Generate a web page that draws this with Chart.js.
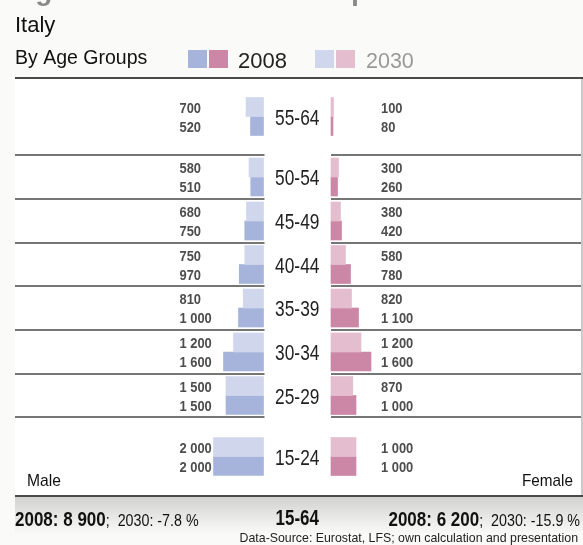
<!DOCTYPE html>
<html>
<head>
<meta charset="utf-8">
<script src="https://cdn.jsdelivr.net/npm/chart.js@4.4.1/dist/chart.umd.min.js"></script>
<style>
  html, body { margin: 0; padding: 0; background: #fafaf8; }
  canvas { display: block; }
</style>
</head>
<body>
<canvas id="pyramid" width="583" height="545"></canvas>
<script>
// data, top row first (values in thousands)
var ageGroups = ['55-64', '50-54', '45-49', '40-44', '35-39', '30-34', '25-29', '15-24'];
var male2030 = [700, 580, 680, 750, 810, 1200, 1500, 2000];
var male2008 = [520, 510, 750, 970, 1000, 1600, 1500, 2000];
var female2030 = [100, 300, 380, 580, 820, 1200, 870, 1000];
var female2008 = [80, 260, 420, 780, 1100, 1600, 1000, 1000];
var years = ['2008', '2030'];
var total2008 = [8900, 6200];      // male, female
var change2030 = [-7.8, -15.9];    // male, female, %
var totalRange = '15-64';

// layout: row heights (10-year groups get taller rows) and bar thickness
var rowHeights = [77, 44, 44, 43, 44, 44, 43, 79];
var BAR = 19;

var colors = {
  male2008: '#a6b4dc', male2030: '#d0d6ec',
  female2008: '#cc86a6', female2030: '#e4becf'
};

var rowCenters = [], rowEdges = [0], acc = 0;
rowHeights.forEach(function (h) {
  rowCenters.push(acc + h / 2);
  acc += h;
  rowEdges.push(acc);
});

function fmt(v) {
  if (v < 1000) return String(v);
  return Math.floor(v / 1000) + ' ' + String(v % 1000).padStart(3, '0');
}
function fmtPct(v) {
  return (v < 0 ? '-' : '') + Math.abs(v).toFixed(1) + ' %';
}

// text with horizontal squeeze (the original uses a condensed face)
function txt(ctx, s, x, y, font, color, align, sx) {
  sx = sx || 1;
  ctx.save();
  ctx.font = font;
  ctx.fillStyle = color;
  ctx.textBaseline = 'alphabetic';
  ctx.textAlign = align || 'left';
  ctx.translate(x, y);
  ctx.scale(sx, 1);
  ctx.fillText(s, 0, 0);
  ctx.restore();
}
function txtWidth(ctx, s, font, sx) {
  ctx.save();
  ctx.font = font;
  var w = ctx.measureText(s).width * (sx || 1);
  ctx.restore();
  return w;
}

function rows(values, offset, male) {
  return values.map(function (v, i) {
    return { x: male ? [-v, 0] : [0, v], y: rowCenters[i] + offset };
  });
}

var FONT = '"Liberation Sans", Arial, sans-serif';

var framePlugin = {
  id: 'frame',
  beforeDraw: function (chart) {
    var ctx = chart.ctx, a = chart.chartArea;
    ctx.save();
    // chart box
    ctx.fillStyle = '#ffffff';
    ctx.fillRect(a.left, a.top, a.right - a.left, a.bottom - a.top);
    ctx.fillStyle = '#c9c9c9';
    ctx.fillRect(a.right, a.top, 2, a.bottom - a.top);
    // shadow below the box
    var g = ctx.createLinearGradient(0, a.bottom, 0, a.bottom + 38);
    g.addColorStop(0, 'rgba(0,0,0,0.16)');
    g.addColorStop(1, 'rgba(0,0,0,0)');
    ctx.fillStyle = g;
    ctx.fillRect(a.left, a.bottom, chart.width - a.left, 38);
    ctx.restore();

    // header (page title is cut off at the top edge)
    txt(ctx, 'Age and Gender: Status quo Scenario', 15, 0, 'bold 28px ' + FONT, '#8a8a8a');
    txt(ctx, 'Italy', 15, 32, '22px ' + FONT, '#111');
    txt(ctx, 'By Age Groups', 15, 64, '19.5px ' + FONT, '#111');

    // legend
    ctx.fillStyle = colors.male2008;   ctx.fillRect(188, 50, 19, 18);
    ctx.fillStyle = colors.female2008; ctx.fillRect(209, 50, 19, 18);
    txt(ctx, years[0], 238, 68, '22px ' + FONT, '#222');
    ctx.fillStyle = colors.male2030;   ctx.fillRect(315, 50, 19, 18);
    ctx.fillStyle = colors.female2030; ctx.fillRect(336, 50, 19, 18);
    txt(ctx, years[1], 366, 68, '21.5px ' + FONT, '#999');
  },
  beforeDatasetsDraw: function (chart) {
    var ctx = chart.ctx, a = chart.chartArea, y = chart.scales.y;
    var m0 = chart.scales.xM.getPixelForValue(0);
    var f0 = chart.scales.xF.getPixelForValue(0);
    ctx.save();
    ctx.strokeStyle = '#4a4a4a';
    rowEdges.forEach(function (e, i) {
      var py = y.getPixelForValue(e);
      ctx.beginPath();
      if (i === 0 || i === rowEdges.length - 1) {
        ctx.lineWidth = 2;
        ctx.moveTo(a.left, py);
        ctx.lineTo(chart.width, py);
      } else {
        ctx.lineWidth = 1.5;
        ctx.moveTo(a.left, py);
        ctx.lineTo(m0 + 1, py);
        ctx.moveTo(f0, py);
        ctx.lineTo(a.right, py);
      }
      ctx.stroke();
    });
    ctx.restore();
  },
  afterDatasetsDraw: function (chart) {
    var ctx = chart.ctx, a = chart.chartArea, y = chart.scales.y;
    var m0 = chart.scales.xM.getPixelForValue(0);
    var f0 = chart.scales.xF.getPixelForValue(0);
    var mid = (m0 + f0) / 2;

    // age group labels
    ageGroups.forEach(function (g, i) {
      txt(ctx, g, mid, y.getPixelForValue(rowCenters[i]) + 8, '22.5px ' + FONT, '#222', 'center', 0.77);
    });

    // value labels next to the bars
    var vfont = 'bold 15px ' + FONT;
    var sets = [[0, male2030, m0 - 84], [1, male2008, m0 - 84],
                [2, female2030, f0 + 50], [3, female2008, f0 + 50]];
    sets.forEach(function (s) {
      var meta = chart.getDatasetMeta(s[0]);
      s[1].forEach(function (v, i) {
        txt(ctx, fmt(v), s[2], meta.data[i].y + 5.5, vfont, '#4d4d4d', 'left', 0.86);
      });
    });

    txt(ctx, 'Male', 27, 486, '17px ' + FONT, '#111', 'left', 0.92);
    txt(ctx, 'Female', 573, 486, '17px ' + FONT, '#111', 'right', 0.9);

    // footer
    var bf = 'bold 20px ' + FONT, rf = '17px ' + FONT;
    var base = 526;
    function footer(i, x, align) {
      var p1 = '2008: ' + fmt(total2008[i]);
      var p2 = ';  2030: ' + fmtPct(change2030[i]);
      var w1 = txtWidth(ctx, p1, bf, 0.85), w2 = txtWidth(ctx, p2, rf, 0.84);
      var x0 = align === 'right' ? x - w1 - w2 : x;
      txt(ctx, p1, x0, base, bf, '#111', 'left', 0.85);
      txt(ctx, p2, x0 + w1, base, rf, '#111', 'left', 0.84);
    }
    footer(0, a.left, 'left');
    footer(1, 580, 'right');
    txt(ctx, totalRange, mid, base - 1, 'bold 22px ' + FONT, '#111', 'center', 0.77);
    txt(ctx, 'Data-Source: Eurostat, LFS; own calculation and presentation', 578, 542,
        '13px ' + FONT, '#222', 'right', 0.95);
  }
};

new Chart(document.getElementById('pyramid'), {
  type: 'bar',
  data: {
    datasets: [
      { label: 'Male 2030', data: rows(male2030, -BAR / 2, true), xAxisID: 'xM', backgroundColor: colors.male2030 },
      { label: 'Male 2008', data: rows(male2008, BAR / 2, true), xAxisID: 'xM', backgroundColor: colors.male2008 },
      { label: 'Female 2030', data: rows(female2030, -BAR / 2, false), xAxisID: 'xF', backgroundColor: colors.female2030 },
      { label: 'Female 2008', data: rows(female2008, BAR / 2, false), xAxisID: 'xF', backgroundColor: colors.female2008 }
    ]
  },
  options: {
    indexAxis: 'y',
    responsive: false,
    devicePixelRatio: 1,
    animation: false,
    barThickness: BAR,
    grouped: false,
    borderWidth: 0,
    layout: { padding: { left: 15, right: 2, top: 78, bottom: 49 } },
    scales: {
      y: { type: 'linear', min: 0, max: acc, reverse: true, offset: false, display: false },
      // same px-per-unit on both sides; zero points sit either side of the age labels
      xM: { type: 'linear', axis: 'x', min: -9940, max: 12700, display: false },
      xF: { type: 'linear', axis: 'x', min: -12640, max: 10000, display: false }
    },
    plugins: {
      legend: { display: false },
      tooltip: { enabled: false }
    }
  },
  plugins: [framePlugin]
});
</script>
</body>
</html>
